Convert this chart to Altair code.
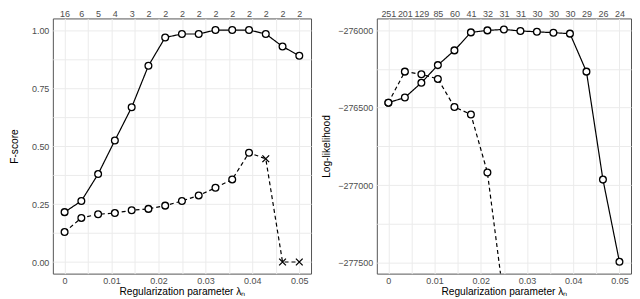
import json
import altair as alt
import pandas as pd

# regularization parameter grid (x positions of the points)
lam = [0.0, 0.00357, 0.00714, 0.01071, 0.01429, 0.01786, 0.02143, 0.025,
       0.02857, 0.03214, 0.03571, 0.03929, 0.04286, 0.04643, 0.05]

# left panel: F-score
f_solid = [0.215, 0.263, 0.379, 0.524, 0.667, 0.846, 0.968, 0.983, 0.983,
           1.0, 1.0, 1.0, 0.983, 0.929, 0.889]
f_dashed = [0.129, 0.190, 0.206, 0.211, 0.223, 0.229, 0.243, 0.263, 0.287,
            0.320, 0.356, 0.471, 0.445, 0.0, 0.0]
f_dashed_marker = ["o"] * 12 + ["x"] * 3
f_counts = ["16", "6", "5", "4", "3", "2", "2", "2", "2", "2", "2", "2", "2", "2", "2"]

# right panel: log-likelihood
ll_solid = [-276468, -276435, -276340, -276226, -276131, -276015, -276002,
            -275996, -276006, -276011, -276017, -276023, -276268, -276964, -277494]
ll_dashed = [-276468, -276268, -276285, -276315, -276496, -276544, -276918, -277740]
ll_dashed_marker = ["o"] * 8
ll_counts = ["251", "201", "129", "85", "60", "41", "32", "31", "31", "30",
             "30", "30", "29", "26", "24"]

x_grid = [0.0, 0.005, 0.01, 0.015, 0.02, 0.025, 0.03, 0.035, 0.04, 0.045, 0.05]
f_grid = [0.0, 0.125, 0.25, 0.375, 0.5, 0.625, 0.75, 0.875, 1.0]
ll_grid = [-277500, -277250, -277000, -276750, -276500, -276250, -276000]

FONT = "Liberation Sans"
LABEL_COLOR = "#4D4D4D"
LABEL_SIZE = 9
TITLE_SIZE = 10.2


def panel(solid, dashed, dashed_marker, counts, ydomain, ygrid, ylabel_expr,
          ytitle, ytitle_pad, width):
    rows = []
    for i, v in enumerate(solid):
        rows.append(dict(lam=lam[i], val=v, series="A", marker="o"))
    for i, v in enumerate(dashed):
        rows.append(dict(lam=lam[i], val=v, series="B", marker=dashed_marker[i]))
    df = pd.DataFrame(rows)

    xscale = alt.Scale(domain=[-0.0025, 0.0525], nice=False, zero=False)
    yscale = alt.Scale(domain=ydomain, nice=False, zero=False)

    yaxis = alt.Axis(values=ygrid, labelExpr=ylabel_expr, title=ytitle,
                     ticks=False, domain=False, grid=True, labelPadding=4,
                     titlePadding=ytitle_pad, labelOverlap=False)

    x_bottom = alt.X("lam:Q", scale=xscale, axis=alt.Axis(
        values=x_grid, orient="bottom", ticks=False, domain=False, grid=True,
        labelExpr="(round(datum.value*1000) % 10 == 0) ? format(datum.value, '.2~f') : ''",
        title="Regularization parameter λₙ", labelPadding=3, titlePadding=1,
        labelOverlap=False, labelFlush=False))

    top_expr = f"{json.dumps(counts)}[indexof({json.dumps(lam)}, datum.value)]"
    x_top = alt.X("lam:Q", scale=xscale, axis=alt.Axis(
        values=lam, orient="top", ticks=False, domain=False, grid=False,
        labelExpr=top_expr, title=None, labelPadding=0,
        labelOverlap=False, labelFlush=False))

    y = alt.Y("val:Q", scale=yscale, axis=yaxis)

    lines = alt.Chart(df).mark_line(clip=True, color="black", strokeWidth=1.2).encode(
        x=x_bottom, y=y,
        detail="series:N",
        strokeDash=alt.StrokeDash("series:N", scale=alt.Scale(
            domain=["A", "B"], range=[[1, 0], [4, 3]]), legend=None),
    )
    pts = alt.Chart(df).mark_point(clip=True, filled=True, fill="white",
                                   stroke="black", strokeWidth=1.3, size=46,
                                   opacity=1).encode(
        x=x_top, y=y,
        shape=alt.Shape("marker:N", scale=alt.Scale(
            domain=["o", "x"], range=["circle", "M-1,-1L1,1M-1,1L1,-1"]), legend=None),
    )
    return alt.layer(lines, pts).resolve_axis(x="independent").properties(
        width=width, height=256)


left = panel(f_solid, f_dashed, f_dashed_marker, f_counts, [-0.05, 1.05], f_grid,
             "(round(datum.value*1000) % 250 == 0) ? format(datum.value, '.2f') : ''",
             "F-score", 12, 259)
right = panel(ll_solid, ll_dashed, ll_dashed_marker, ll_counts, [-277570, -275925],
              ll_grid,
              "(datum.value % 500 == 0) ? format(datum.value, 'd') : ''",
              "Log-likelihood", 6, 255)

chart = alt.hconcat(left, right, spacing=9).properties(padding=0).configure(
    font=FONT
).configure_axis(
    labelFont=FONT, titleFont=FONT, labelColor=LABEL_COLOR, labelFontSize=LABEL_SIZE,
    titleFontSize=TITLE_SIZE, titleColor="black", titleFontWeight="normal",
    gridColor="#EBEBEB", gridWidth=1,
).configure_view(stroke="#555555", strokeWidth=1)

chart.save("out.html", embed_options={"renderer": "svg", "actions": False})
